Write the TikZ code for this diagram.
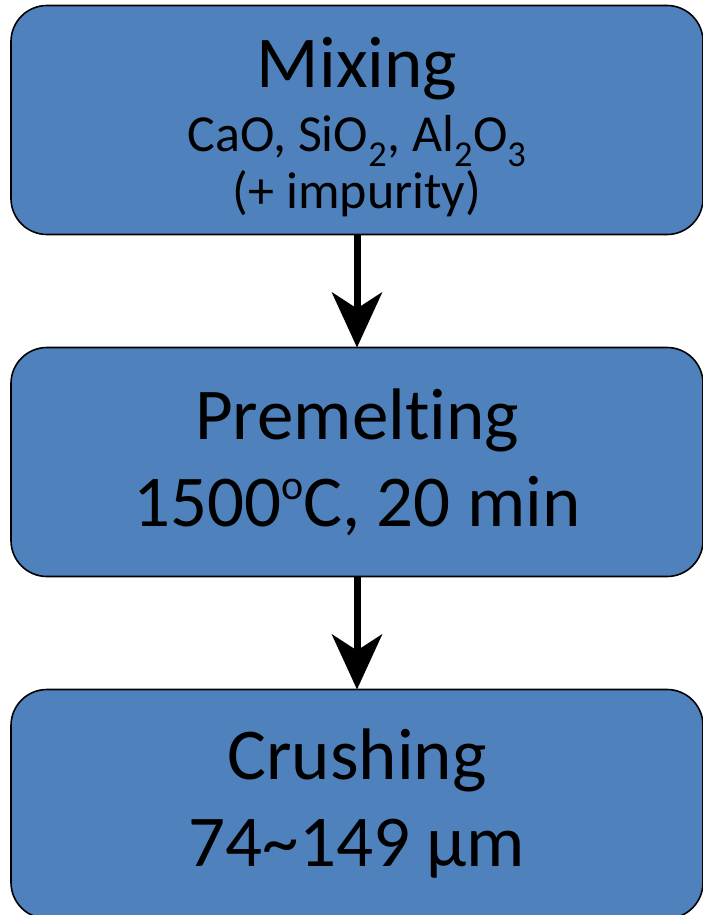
\documentclass[tikz,border=0pt]{standalone}
\usepackage{fontspec}
\setmainfont{Carlito}[Ligatures=NoCommon]
\usepackage{tikz}
\usetikzlibrary{positioning,arrows.meta}
\definecolor{stepblue}{RGB}{79,129,189}
\def\stepbig{\fontsize{73}{87}\selectfont}
\def\stepsm{\fontsize{52}{54}\selectfont}
\def\degsup{\raisebox{0.37em}{\fontsize{42}{42}\selectfont o}}

\begin{document}
\begin{tikzpicture}[x=1pt,y=1pt,
    stepbox/.style={draw=black,line width=1.6pt,fill=stepblue,rounded corners=36pt,
        minimum width=692pt,minimum height=229pt,align=center,outer sep=0pt,inner sep=0pt,
        font=\stepbig},
    flow/.style={line width=7pt,-{Stealth[length=55pt,width=50pt,inset=16pt]}}]
    \useasboundingbox (0,0) rectangle (702,-915);
    \node[stepbox,font=\stepsm] (mixing) at (357,-120){\rule{0pt}{64pt}\stepbig Mixing\\[10pt]CaO, SiO\textsubscript{2}, Al\textsubscript{2}O\textsubscript{3}\\[3pt](+ impurity)};
    \node[stepbox,below=113pt of mixing] (premelt){Premelting\\1500\degsup C, 20 min};
    \node[stepbox,below=113pt of premelt] (crush){Crushing\\74\symbol{"7E}149 µm};
    % process flow
    \draw[flow] (mixing) -- (premelt);
    \draw[flow] (premelt) -- (crush);
\end{tikzpicture}
\end{document}
